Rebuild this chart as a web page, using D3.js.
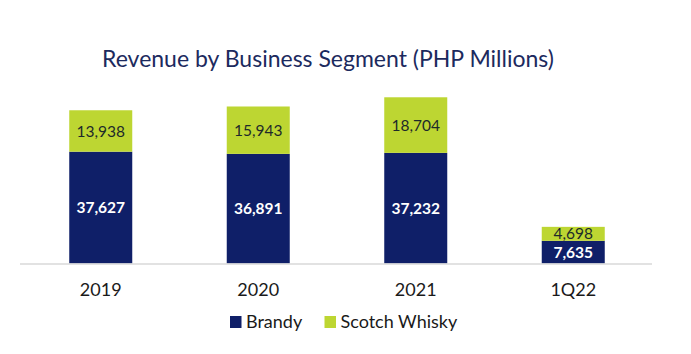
<!DOCTYPE html>
<html>
<head>
<meta charset="utf-8">
<script src="https://cdn.jsdelivr.net/npm/d3@7"></script>
<style>
  html, body { margin: 0; padding: 0; background: #fff; }
  svg { display: block; font-family: Lato, "Open Sans", sans-serif; }
</style>
</head>
<body>
<div id="chart"></div>
<script>
// chart data
const categories = ["2019", "2020", "2021", "1Q22"];
const brandy = [37627, 36891, 37232, 7635];
const scotch = [13938, 15943, 18704, 4698];
const seriesNames = ["Brandy", "Scotch Whisky"];
const seriesColors = ["#0f1f68", "#bdd632"];

const width = 691, height = 354;
const baseY = 263.5;

const svg = d3.select("#chart")
    .append("svg")
    .attr("width", width)
    .attr("height", height);

// title
svg.append("text")
    .attr("x", 328)
    .attr("y", 67)
    .attr("text-anchor", "middle")
    .attr("fill", "#1c2a5e")
    .style("font-size", "23px")
    .text("Revenue by Business Segment (PHP Millions)");

const x = d3.scaleBand()
    .domain(categories)
    .range([22, 652])
    .paddingInner(0.6)
    .paddingOuter(0.3);

const y = d3.scaleLinear()
    .domain([0, 60000])
    .range([baseY, baseY - 178.3]);

// stack the two series
const rows = categories.map((c, i) => ({ cat: c, Brandy: brandy[i], "Scotch Whisky": scotch[i] }));
const stacked = d3.stack().keys(seriesNames)(rows);

const layers = svg.selectAll("g.layer")
    .data(stacked)
    .join("g")
    .attr("class", "layer")
    .attr("fill", (d, i) => seriesColors[i]);

layers.selectAll("rect")
    .data(d => d)
    .join("rect")
    .attr("x", d => x(d.data.cat))
    .attr("y", d => y(d[1]))
    .attr("width", x.bandwidth())
    .attr("height", d => y(d[0]) - y(d[1]));

// value labels
const fmt = d3.format(",");
stacked.forEach((layer, li) => {
    svg.append("g")
        .selectAll("text")
        .data(layer)
        .join("text")
        .attr("x", d => x(d.data.cat) + x.bandwidth() / 2)
        .attr("y", d => (y(d[0]) + y(d[1])) / 2)
        .attr("dy", "0.36em")
        .attr("text-anchor", "middle")
        .attr("fill", li === 0 ? "#ffffff" : "#1d2a2a")
        .style("font-size", "15.5px")
        .style("font-weight", li === 0 ? "700" : "400")
        .text(d => fmt(d[1] - d[0]));
});

// baseline
svg.append("line")
    .attr("x1", 20)
    .attr("x2", 652)
    .attr("y1", baseY + 0.5)
    .attr("y2", baseY + 0.5)
    .attr("stroke", "#d9d9d9")
    .attr("stroke-width", 1.5);

// category labels
svg.append("g")
    .selectAll("text")
    .data(categories)
    .join("text")
    .attr("x", d => x(d) + x.bandwidth() / 2)
    .attr("y", 296)
    .attr("text-anchor", "middle")
    .attr("fill", "#1a1a1a")
    .style("font-size", "18px")
    .text(d => d);

// legend
const legendX = [230, 324.5];
const legend = svg.append("g")
    .selectAll("g")
    .data(seriesNames)
    .join("g")
    .attr("transform", (d, i) => `translate(${legendX[i]},316)`);

legend.append("rect")
    .attr("width", 11.5)
    .attr("height", 12)
    .attr("fill", (d, i) => seriesColors[i]);

legend.append("text")
    .attr("x", 16)
    .attr("y", 12)
    .attr("fill", "#1a1a1a")
    .style("font-size", "18px")
    .text(d => d);
</script>
</body>
</html>
